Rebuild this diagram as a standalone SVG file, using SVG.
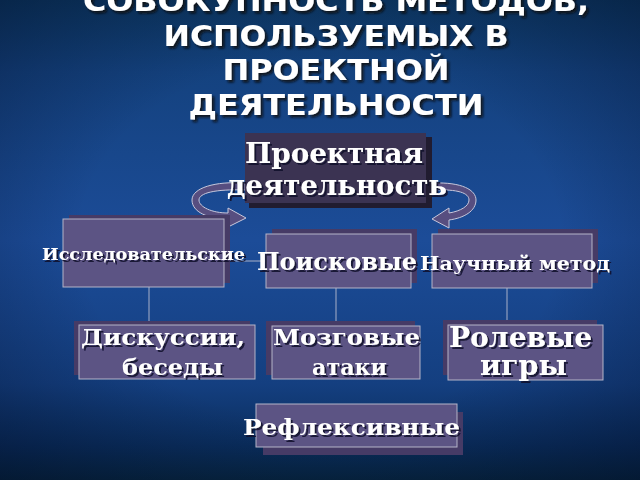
<svg xmlns="http://www.w3.org/2000/svg" width="640" height="480" viewBox="0 0 640 480">
  <defs>
    <linearGradient id="bg" x1="0" y1="0" x2="0" y2="1">
      <stop offset="0" stop-color="#0d3a66"/>
      <stop offset="0.15" stop-color="#14427f"/>
      <stop offset="0.5" stop-color="#1c4c98"/>
      <stop offset="0.8" stop-color="#143f80"/>
      <stop offset="0.93" stop-color="#0a2d5c"/>
      <stop offset="1" stop-color="#072540"/>
    </linearGradient>
    <radialGradient id="vig" cx="0.5" cy="0.5" r="0.75">
      <stop offset="0.5" stop-color="#000820" stop-opacity="0"/>
      <stop offset="1" stop-color="#000820" stop-opacity="0.45"/>
    </radialGradient>
    <filter id="ts" x="-10%" y="-30%" width="120%" height="160%">
      <feDropShadow dx="2" dy="2" stdDeviation="0.6" flood-color="#10102a" flood-opacity="0.85"/>
    </filter>
    <filter id="tts" x="-10%" y="-30%" width="120%" height="160%">
      <feDropShadow dx="2.5" dy="2.5" stdDeviation="0.8" flood-color="#111" flood-opacity="0.85"/>
    </filter>
    <style>
      .title { font-family: "DejaVu Sans", "Liberation Sans", sans-serif; font-weight: bold; font-size: 29px; fill: #ffffff; }
      .lbl { font-family: "DejaVu Serif", "Liberation Serif", serif; font-weight: bold; fill: #ffffff; }
      .box { fill: #5c5484; stroke: #b4b4c8; stroke-width: 1; }
      .sh { fill: #463b66; }
      .conn { stroke: #a8b0c8; stroke-width: 1; fill: none; }
      .arr { fill: #574e80; stroke: #c8c8dc; stroke-width: 1; }
    </style>
  </defs>

  <rect x="0" y="0" width="640" height="480" fill="url(#bg)"/>
  <rect x="0" y="0" width="640" height="480" fill="url(#vig)"/>

  <g id="title" filter="url(#tts)">
    <text class="title" x="336" y="11" text-anchor="middle" textLength="506" lengthAdjust="spacingAndGlyphs">СОВОКУПНОСТЬ МЕТОДОВ,</text>
    <text class="title" x="336" y="46" text-anchor="middle" textLength="345" lengthAdjust="spacingAndGlyphs">ИСПОЛЬЗУЕМЫХ В</text>
    <text class="title" x="336" y="80" text-anchor="middle" textLength="227" lengthAdjust="spacingAndGlyphs">ПРОЕКТНОЙ</text>
    <text class="title" x="336" y="115" text-anchor="middle" textLength="295" lengthAdjust="spacingAndGlyphs">ДЕЯТЕЛЬНОСТИ</text>
  </g>

  <g id="connectors">
    <line class="conn" x1="224" y1="261" x2="266" y2="261"/>
    <line class="conn" x1="149" y1="287" x2="149" y2="321"/>
    <line class="conn" x1="336" y1="288" x2="336" y2="321"/>
    <line class="conn" x1="507" y1="288" x2="507" y2="320"/>
    <path class="arr" d="M245,183 C215,181 192,188 192,200 C192,212 208,219 228,219 L228,227 L246,218 L228,208 L228,213 C212,213 199,207 199,200 C199,193 215,189 245,190 Z"/>
    <path class="arr" d="M433,183 C462,182 476,190 476,200 C476,211 464,218 449,220 L449,228 L432,219 L449,208 L449,213 C461,211 469,206 469,200 C469,193 458,189 433,190 Z"/>
  </g>

  <g id="node-project">
    <rect x="249" y="137" width="183" height="71" fill="#211c30"/>
    <rect x="245" y="133" width="181" height="70" fill="#3b3352"/>
    <g filter="url(#ts)">
      <text class="lbl" x="245" y="163" font-size="27" textLength="178" lengthAdjust="spacingAndGlyphs">Проектная</text>
      <text class="lbl" x="227" y="195" font-size="27" textLength="220" lengthAdjust="spacingAndGlyphs">деятельность</text>
    </g>
  </g>

  <g id="node-research">
    <rect class="sh" x="69" y="215" width="161" height="68"/>
    <rect class="box" x="63" y="219" width="161" height="68"/>
    <text class="lbl" x="42" y="260" font-size="16.5" textLength="203" lengthAdjust="spacingAndGlyphs" filter="url(#ts)">Исследовательские</text>
  </g>

  <g id="node-search">
    <rect class="sh" x="272" y="229" width="145" height="54"/>
    <rect class="box" x="266" y="234" width="145" height="54"/>
    <text class="lbl" x="257" y="270" font-size="24" textLength="160" lengthAdjust="spacingAndGlyphs" filter="url(#ts)">Поисковые</text>
  </g>

  <g id="node-science">
    <rect class="sh" x="438" y="229" width="160" height="54"/>
    <rect class="box" x="432" y="234" width="160" height="54"/>
    <text class="lbl" x="420" y="270" font-size="19" textLength="190" lengthAdjust="spacingAndGlyphs" filter="url(#ts)">Научный метод</text>
  </g>

  <g id="node-discussion">
    <rect class="sh" x="74" y="321" width="176" height="54"/>
    <rect class="box" x="79" y="325" width="176" height="54"/>
    <g filter="url(#ts)">
      <text class="lbl" x="81" y="345" font-size="23" textLength="164" lengthAdjust="spacingAndGlyphs">Дискуссии,</text>
      <text class="lbl" x="122" y="375" font-size="23" textLength="101" lengthAdjust="spacingAndGlyphs">беседы</text>
    </g>
  </g>

  <g id="node-brainstorm">
    <rect class="sh" x="266" y="321" width="149" height="54"/>
    <rect class="box" x="272" y="326" width="148" height="53"/>
    <g filter="url(#ts)">
      <text class="lbl" x="273" y="345" font-size="23" textLength="147" lengthAdjust="spacingAndGlyphs">Мозговые</text>
      <text class="lbl" x="312" y="375" font-size="23" textLength="75" lengthAdjust="spacingAndGlyphs">атаки</text>
    </g>
  </g>

  <g id="node-roleplay">
    <rect class="sh" x="443" y="320" width="154" height="55"/>
    <rect class="box" x="448" y="325" width="155" height="55"/>
    <g filter="url(#ts)">
      <text class="lbl" x="449" y="347" font-size="27" textLength="143" lengthAdjust="spacingAndGlyphs">Ролевые</text>
      <text class="lbl" x="480" y="375" font-size="27" textLength="87" lengthAdjust="spacingAndGlyphs">игры</text>
    </g>
  </g>

  <g id="node-reflexive">
    <rect class="sh" x="263" y="412" width="200" height="43"/>
    <rect class="box" x="256" y="404" width="201" height="43"/>
    <text class="lbl" x="243" y="435" font-size="23" textLength="217" lengthAdjust="spacingAndGlyphs" filter="url(#ts)">Рефлексивные</text>
  </g>
</svg>
